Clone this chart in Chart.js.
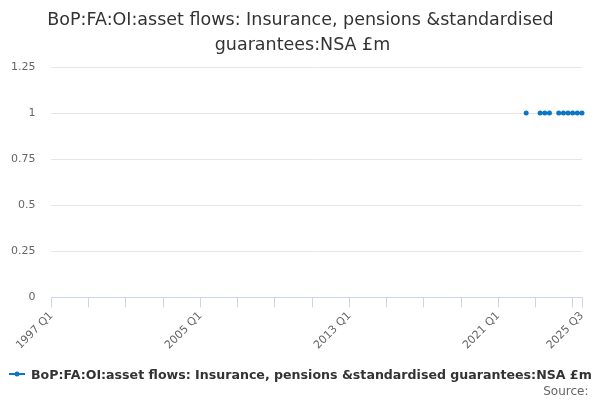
<!DOCTYPE html>
<html>
<head>
<meta charset="utf-8">
<script src="https://cdn.jsdelivr.net/npm/chart.js@4"></script>
<style>
  html, body { margin: 0; padding: 0; background: #fff; }
  #wrap { width: 600px; height: 400px; }
</style>
</head>
<body>
<div id="wrap"><canvas id="c" width="600" height="400"></canvas></div>
<script>
// Categories: quarters 1997 Q1 .. 2025 Q3
const firstYear = 1997;
const lastLabel = "2025 Q3";
const categories = [];
for (let y = firstYear; y <= 2025; y++) {
  for (let q = 1; q <= 4; q++) {
    const l = y + " Q" + q;
    categories.push(l);
    if (l === lastLabel) break;
  }
}
const observedQuarters = ["2022 Q3", "2023 Q2", "2023 Q3", "2023 Q4", "2024 Q2", "2024 Q3", "2024 Q4", "2025 Q1", "2025 Q2", "2025 Q3"];
const observedValues   = [1, 1, 1, 1, 1, 1, 1, 1, 1, 1];
const yTicks = [0, 0.25, 0.5, 0.75, 1, 1.25];
const tickLabels = ["1997 Q1", "2005 Q1", "2013 Q1", "2021 Q1", "2025 Q3"];
const seriesName = "BoP:FA:OI:asset flows: Insurance, pensions &standardised guarantees:NSA £m";
const titleLines = ["BoP:FA:OI:asset flows: Insurance, pensions &standardised", "guarantees:NSA £m"];
const sourceText = "Source:";

const values = categories.map(c => {
  const i = observedQuarters.indexOf(c);
  return i >= 0 ? observedValues[i] : null;
});

const BLUE = "#0b76c3";
const FONT = "'DejaVu Sans', sans-serif";

// Draws title, legend and source text
const textPlugin = {
  id: "texts",
  afterDraw(chart) {
    const ctx = chart.ctx;
    ctx.save();
    // title
    ctx.fillStyle = "#333333";
    ctx.font = "17.5px " + FONT;
    ctx.textAlign = "center";
    ctx.textBaseline = "alphabetic";
    ctx.fillText(titleLines[0], 300.5, 24.5);
    ctx.fillText(titleLines[1], 302.5, 50);
    // legend
    ctx.strokeStyle = BLUE;
    ctx.lineWidth = 2;
    ctx.beginPath(); ctx.moveTo(9, 374); ctx.lineTo(25, 374); ctx.stroke();
    ctx.fillStyle = BLUE;
    ctx.beginPath(); ctx.arc(17, 374, 2.5, 0, Math.PI * 2); ctx.fill();
    ctx.fillStyle = "#333333";
    ctx.font = "bold 12.6px " + FONT;
    ctx.textAlign = "left";
    ctx.fillText(seriesName, 31, 378.5);
    // source
    ctx.fillStyle = "#666666";
    ctx.font = "12px " + FONT;
    ctx.textAlign = "right";
    ctx.fillText(sourceText, 588.5, 395);
    ctx.restore();
  }
};

new Chart(document.getElementById("c"), {
  type: "line",
  data: {
    labels: categories,
    datasets: [{
      label: seriesName,
      data: values,
      borderColor: BLUE,
      backgroundColor: BLUE,
      borderWidth: 2,
      pointRadius: 2.5,
      pointHoverRadius: 3,
      pointBackgroundColor: BLUE,
      pointBorderWidth: 0,
      spanGaps: false,
      tension: 0
    }]
  },
  plugins: [textPlugin],
  options: {
    responsive: false,
    animation: false,
    devicePixelRatio: 1,
    layout: { padding: { left: -5, right: 18, top: 67, bottom: 46 } },
    plugins: {
      title: { display: false },
      legend: { display: false },
      tooltip: { enabled: false }
    },
    scales: {
      x: {
        type: "category",
        offset: false,
        afterBuildTicks: (scale) => {
          const last = categories.length - 1;
          scale.ticks = scale.ticks.filter(t => t.value % 8 === 0 || t.value === last);
        },
        ticks: {
          autoSkip: false,
          minRotation: 45,
          maxRotation: 45,
          color: "#666666",
          font: { family: FONT, size: 11 },
          padding: 2,
          callback: function(value) {
            const l = categories[value];
            return tickLabels.includes(l) ? l : "";
          }
        },
        grid: {
          display: true,
          drawOnChartArea: false,
          drawTicks: true,
          tickLength: 10,
          color: "#ccd6eb",
          lineWidth: 1
        },
        border: { display: true, color: "#ccd6eb", width: 1 }
      },
      y: {
        min: 0,
        max: 1.25,
        afterBuildTicks: (scale) => { scale.ticks = yTicks.map(v => ({ value: v })); },
        ticks: {
          color: "#666666",
          font: { family: FONT, size: 11 },
          padding: 16,
          callback: (v) => String(v)
        },
        grid: { color: "#e6e6e6", drawTicks: false, lineWidth: 1 },
        border: { display: false }
      }
    }
  }
});
</script>
</body>
</html>
